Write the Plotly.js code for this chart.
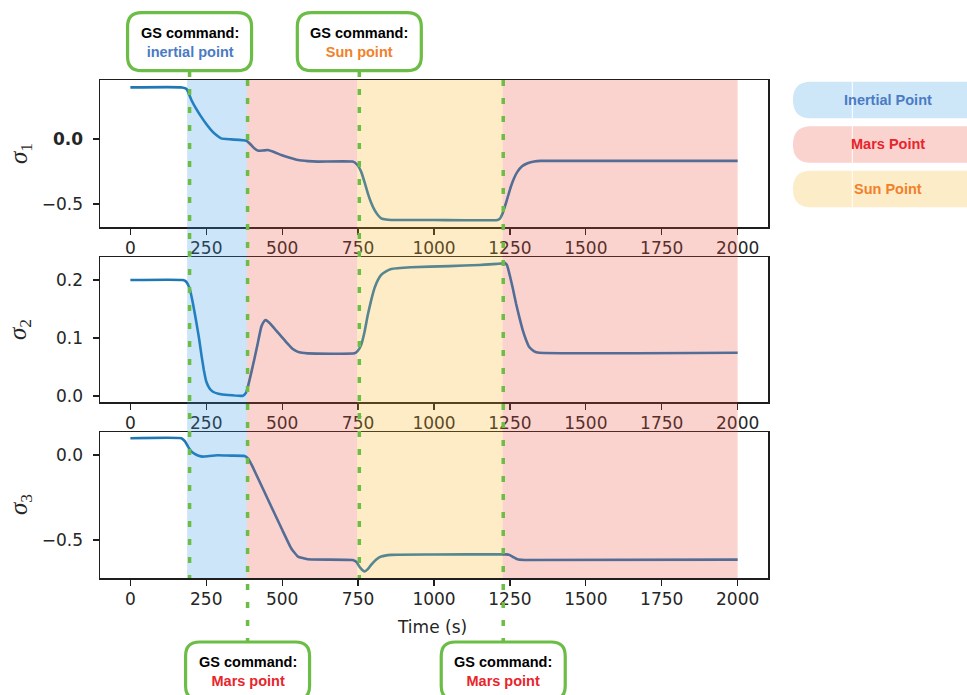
<!DOCTYPE html>
<html>
<head>
<meta charset="utf-8">
<script src="https://cdn.plot.ly/plotly-3.0.1.min.js"></script>
<style>html,body{margin:0;padding:0;background:#fff;}#chart{width:967px;height:695px;}</style>
</head>
<body>
<div id="chart"></div>
<script>
// ---------------- data ----------------
const time1 = [0,170,185,201,216,233,250,266,283,299,332,382,398,410,422,437,453,475,497,525,552,585,617,732,746,760,771,782,793,804,815,826,842,859,1000,1209,1218,1226,1240,1253,1264,1275,1290,1308,1330,1352,2000];
const sigma1 = [0.397,0.397,0.385,0.30,0.235,0.172,0.115,0.069,0.03,0.005,-0.003,-0.013,-0.046,-0.075,-0.09,-0.088,-0.085,-0.102,-0.123,-0.145,-0.162,-0.17,-0.174,-0.174,-0.195,-0.251,-0.33,-0.418,-0.49,-0.546,-0.585,-0.61,-0.62,-0.623,-0.623,-0.623,-0.61,-0.572,-0.47,-0.367,-0.3,-0.251,-0.21,-0.187,-0.173,-0.168,-0.168];

const time2 = [0,173,184,195,206,217,226,234,242,250,261,272,290,321,371,380,387,398,409,420,431,438,445,452,462,475,490,505,520,535,550,565,584,738,749,760,771,782,793,804,815,826,842,859,924,1050,1150,1226,1231,1240,1248,1259,1270,1281,1292,1303,1313,1330,1346,2000];
const sigma2 = [0.2,0.2,0.197,0.186,0.16,0.128,0.1,0.071,0.045,0.025,0.013,0.0074,0.004,0.0017,0.0006,0.005,0.016,0.04,0.065,0.092,0.119,0.127,0.131,0.129,0.124,0.116,0.107,0.098,0.089,0.081,0.0765,0.0745,0.0736,0.0736,0.078,0.088,0.11,0.14,0.165,0.186,0.2,0.209,0.215,0.219,0.222,0.224,0.226,0.2288,0.2305,0.226,0.2115,0.187,0.16,0.136,0.114,0.097,0.085,0.077,0.0747,0.0747];

const time3 = [0,168,180,190,200,212,225,239,260,288,330,376,387,400,450,500,530,552,584,732,745,754,763,771,782,793,810,826,859,1000,1226,1237,1248,1262,1275,1297,2000];
const sigma3 = [0.098,0.098,0.08,0.049,0.022,0.006,-0.005,-0.01,-0.006,-0.002,-0.004,-0.006,-0.02,-0.06,-0.25,-0.44,-0.55,-0.598,-0.614,-0.618,-0.63,-0.657,-0.676,-0.686,-0.672,-0.647,-0.615,-0.598,-0.588,-0.586,-0.584,-0.585,-0.588,-0.602,-0.614,-0.618,-0.616];

// pointing phases
const phaseNames = ['Inertial Point','Mars Point','Sun Point','Mars Point'];
const phaseStart = [187, 384, 747, 1226];
const phaseEnd = [384, 747, 1226, 2000];

// ground-station commands
const commandTimes = [195, 386, 754, 1228];
const commandTargets = ['inertial point','Mars point','Sun point','Mars point'];
const commandAtTop = [true, false, true, false];

// legend entries
const legendNames = ['Inertial Point','Mars Point','Sun Point'];

// tick labels
const xTickVals = [0,250,500,750,1000,1250,1500,1750,2000];
const xTickText = ['0','250','500','750','1000','1250','1500','1750','2000'];
const y1TickVals = [-0.5, 0.0];
const y1TickText = ['\u22120.5','<b>0.0</b>'];
const y2TickVals = [0.0, 0.1, 0.2];
const y2TickText = ['0.0','0.1','0.2'];
const y3TickVals = [-0.5, 0.0];
const y3TickText = ['\u22120.5','0.0'];

// ---------------- styles ----------------
const W = 967, H = 695;
const px = v => v / W;
const py = v => 1 - v / H;

const shadeFill = {
  'Inertial Point': 'rgba(50,150,230,0.25)',
  'Mars Point': 'rgba(240,80,60,0.25)',
  'Sun Point': 'rgba(250,180,30,0.25)'
};
const pillFill = {
  'Inertial Point': '#cde6f8',
  'Mars Point': '#fad2ce',
  'Sun Point': '#fdecc8'
};
const textColor = {
  'Inertial Point': '#4a7bc4', 'inertial point': '#4a7bc4',
  'Mars Point': '#e8242c', 'Mars point': '#e8242c',
  'Sun Point': '#f2802a', 'Sun point': '#f2802a'
};
const green = '#6cbd45';
const lineColor = '#1f77b4';
const axisColor = '#1e1e1e';
const tickFont = {family: 'DejaVu Sans', size: 17, color: '#262626'};

const xDomain = [px(100), px(768)];
const yDomains = [[py(227), py(80)], [py(402), py(257)], [py(578), py(432)]];
const yRanges = [[-0.677, 0.454], [-0.0103, 0.2397], [-0.724, 0.135]];

function xAxis(anchor) {
  return {
    domain: xDomain, range: [-100, 2100], anchor: anchor,
    tickmode: 'array', tickvals: xTickVals, ticktext: xTickText,
    ticks: 'outside', ticklen: 6, tickwidth: 1.3, tickcolor: axisColor,
    showline: true, mirror: true, linecolor: axisColor, linewidth: 1.5,
    showgrid: false, zeroline: false, tickfont: tickFont, ticklabelstandoff: -1
  };
}
function yAxis(i, anchor, vals, text) {
  return {
    domain: yDomains[i], range: yRanges[i], anchor: anchor,
    tickmode: 'array', tickvals: vals, ticktext: text,
    ticks: 'outside', ticklen: 6, tickwidth: 1.3, tickcolor: axisColor,
    showline: true, mirror: true, linecolor: axisColor, linewidth: 1.5,
    showgrid: false, zeroline: false, tickfont: tickFont, ticklabelstandoff: 6
  };
}

const traces = [
  {x: time1, y: sigma1, xaxis: 'x', yaxis: 'y'},
  {x: time2, y: sigma2, xaxis: 'x2', yaxis: 'y2'},
  {x: time3, y: sigma3, xaxis: 'x3', yaxis: 'y3'}
].map(t => Object.assign(t, {
  type: 'scatter', mode: 'lines', hoverinfo: 'skip',
  line: {color: lineColor, width: 2.6, shape: 'spline', smoothing: 0.4}
}));

// rounded rectangle path in pixels (relative)
function roundRect(x0, y0, x1, y1, r) {
  return `M${x0+r},${y0} L${x1-r},${y0} Q${x1},${y0} ${x1},${y0+r} L${x1},${y1-r} Q${x1},${y1} ${x1-r},${y1} ` +
         `L${x0+r},${y1} Q${x0},${y1} ${x0},${y1-r} L${x0},${y0+r} Q${x0},${y0} ${x0+r},${y0} Z`;
}

const shapes = [];
const annotations = [];

// phase shading (over everything, like the reference)
phaseNames.forEach((name, i) => {
  shapes.push({
    type: 'rect', layer: 'above', xref: 'x', yref: 'paper',
    x0: phaseStart[i], x1: phaseEnd[i], y0: py(578), y1: py(80),
    fillcolor: shadeFill[name], line: {width: 0}
  });
});

// command lines and boxes
commandTimes.forEach((t, i) => {
  const top = commandAtTop[i];
  shapes.push({
    type: 'line', layer: 'above', xref: 'x', yref: 'paper',
    x0: t, x1: t,
    y0: top ? py(71) : py(80), y1: top ? py(578) : py(642),
    line: {color: green, width: 3.5, dash: '6px,12px'}
  });
  const cy = top ? 41.7 : 671;
  shapes.push({
    type: 'path', layer: 'above', xref: 'x', yref: 'paper',
    xsizemode: 'pixel', ysizemode: 'pixel', xanchor: t, yanchor: py(cy),
    path: roundRect(-62, -29, 62, 29, 14),
    fillcolor: '#ffffff', line: {color: green, width: 3.2}
  });
  annotations.push({
    xref: 'x', yref: 'paper', x: t, y: py(cy + 0.5), xanchor: 'center', yanchor: 'middle',
    showarrow: false, align: 'center',
    text: `<b>GS command:</b><br><b><span style="color:${textColor[commandTargets[i]]}">${commandTargets[i]}</span></b>`,
    font: {family: 'Liberation Sans, Arial, sans-serif', size: 14.5, color: '#000000'}
  });
});

// legend pills
const pillCentres = [100, 144.5, 189];
legendNames.forEach((name, i) => {
  shapes.push({
    type: 'path', layer: 'above', xref: 'paper', yref: 'paper',
    xsizemode: 'pixel', ysizemode: 'pixel', xanchor: px(793), yanchor: py(pillCentres[i]),
    path: roundRect(0, -18.3, 260, 18.3, 18),
    fillcolor: pillFill[name], line: {width: 0}
  });
  annotations.push({
    xref: 'paper', yref: 'paper', x: px(888), y: py(pillCentres[i]),
    xanchor: 'center', yanchor: 'middle', showarrow: false,
    text: `<b>${name}</b>`,
    font: {family: 'Liberation Sans, Arial, sans-serif', size: 14.5, color: textColor[name]}
  });
});
shapes.push({
  type: 'line', layer: 'above', xref: 'paper', yref: 'paper',
  x0: px(852.3), x1: px(852.3), y0: py(82), y1: py(207.5),
  line: {color: '#ffffff', width: 1}
});

// axis titles
const sigmaFont = {family: 'Liberation Serif, DejaVu Serif, serif', size: 25, color: '#262626'};
[['1', 154], ['2', 330], ['3', 505]].forEach(([k, cy]) => {
  annotations.push({
    xref: 'paper', yref: 'paper', x: px(20), y: py(cy), xanchor: 'center', yanchor: 'middle',
    textangle: -90, showarrow: false,
    text: `<i>σ</i><sub>${k}</sub>`, font: sigmaFont
  });
});
annotations.push({
  xref: 'paper', yref: 'paper', x: px(432), y: py(627), xanchor: 'center', yanchor: 'middle',
  showarrow: false, text: 'Time (s)',
  font: {family: 'DejaVu Sans', size: 17, color: '#262626'}
});

const layout = {
  width: W, height: H, autosize: false,
  margin: {l: 0, r: 0, t: 0, b: 0},
  paper_bgcolor: '#ffffff', plot_bgcolor: '#ffffff',
  showlegend: false,
  xaxis: xAxis('y'), xaxis2: xAxis('y2'), xaxis3: xAxis('y3'),
  yaxis: yAxis(0, 'x', y1TickVals, y1TickText),
  yaxis2: yAxis(1, 'x2', y2TickVals, y2TickText),
  yaxis3: yAxis(2, 'x3', y3TickVals, y3TickText),
  shapes: shapes, annotations: annotations
};

Plotly.newPlot('chart', traces, layout, {displayModeBar: false, staticPlot: true});
</script>
</body>
</html>
